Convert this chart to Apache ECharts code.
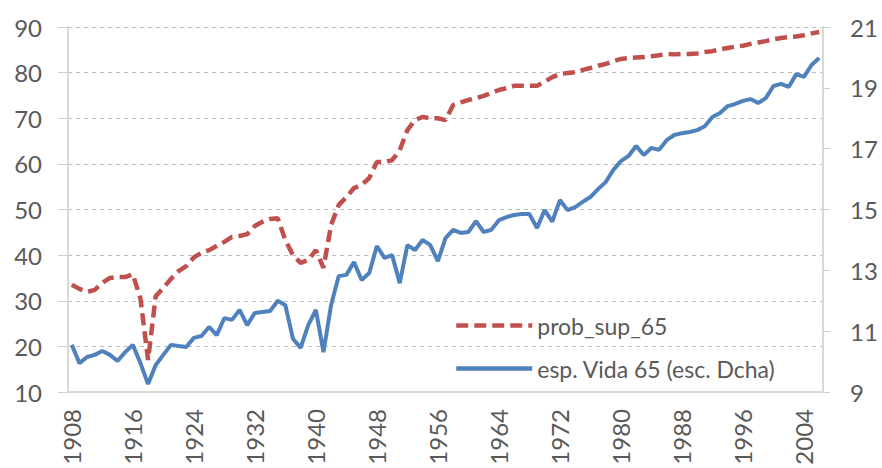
<!DOCTYPE html>
<html>
<head>
<meta charset="utf-8">
<script src="https://cdn.jsdelivr.net/npm/echarts@6/dist/echarts.min.js"></script>
<style>
  html, body { margin: 0; padding: 0; background: #fff; }
  #chart { width: 882px; height: 468px; }
</style>
</head>
<body>
<div id="chart"></div>
<script>
var years = [
  '1908', '1909', '1910', '1911', '1912', '1913', '1914', '1915', '1916', '1917',
  '1918', '1919', '1920', '1921', '1922', '1923', '1924', '1925', '1926', '1927',
  '1928', '1929', '1930', '1931', '1932', '1933', '1934', '1935', '1936', '1937',
  '1938', '1939', '1940', '1941', '1942', '1943', '1944', '1945', '1946', '1947',
  '1948', '1949', '1950', '1951', '1952', '1953', '1954', '1955', '1956', '1957',
  '1958', '1959', '1960', '1961', '1962', '1963', '1964', '1965', '1966', '1967',
  '1968', '1969', '1970', '1971', '1972', '1973', '1974', '1975', '1976', '1977',
  '1978', '1979', '1980', '1981', '1982', '1983', '1984', '1985', '1986', '1987',
  '1988', '1989', '1990', '1991', '1992', '1993', '1994', '1995', '1996', '1997',
  '1998', '1999', '2000', '2001', '2002', '2003', '2004', '2005', '2006'
];

// prob_sup_65 (eje izquierdo)
var probSup65 = [
  33.5, 32.6, 31.9, 32.4, 33.9, 35.0, 35.2, 35.2, 35.8, 30.5,
  17.0, 31.0, 32.8, 34.8, 36.5, 37.6, 39.5, 40.5, 41.1, 42.0,
  42.9, 44.0, 44.2, 44.6, 46.4, 47.3, 47.9, 48.1, 43.3, 40.0,
  38.3, 38.9, 41.1, 37.2, 46.6, 51.0, 52.7, 54.7, 55.4, 56.9,
  60.4, 60.4, 60.8, 63.0, 67.4, 69.6, 70.3, 70.0, 70.0, 69.6,
  72.9, 73.5, 74.0, 74.4, 74.9, 75.5, 76.2, 76.6, 77.1, 77.1,
  77.1, 77.1, 78.0, 79.0, 79.7, 79.9, 80.1, 80.6, 81.0, 81.5,
  81.9, 82.5, 83.0, 83.2, 83.3, 83.4, 83.6, 83.8, 84.1, 84.0,
  84.1, 84.1, 84.2, 84.5, 84.7, 85.1, 85.4, 85.7, 85.9, 86.3,
  86.6, 86.9, 87.3, 87.6, 87.8, 87.9, 88.2, 88.6, 88.9
];

// esp. Vida 65 (eje derecho)
var espVida65 = [
  10.55, 9.95, 10.15, 10.22, 10.35, 10.22, 10.02, 10.31, 10.55, 9.95,
  9.26, 9.89, 10.22, 10.55, 10.51, 10.48, 10.78, 10.84, 11.14, 10.87,
  11.43, 11.37, 11.70, 11.20, 11.60, 11.63, 11.66, 12.00, 11.85, 10.75,
  10.45, 11.20, 11.70, 10.31, 11.86, 12.81, 12.85, 13.27, 12.68, 12.91,
  13.80, 13.41, 13.50, 12.58, 13.83, 13.67, 14.00, 13.83, 13.30, 14.06,
  14.33, 14.23, 14.26, 14.62, 14.26, 14.33, 14.65, 14.75, 14.82, 14.85,
  14.85, 14.39, 14.98, 14.60, 15.31, 14.98, 15.08, 15.25, 15.41, 15.67,
  15.90, 16.30, 16.59, 16.76, 17.09, 16.79, 17.02, 16.96, 17.28, 17.45,
  17.51, 17.55, 17.61, 17.74, 18.04, 18.17, 18.40, 18.47, 18.57, 18.63,
  18.50, 18.66, 19.06, 19.13, 19.03, 19.45, 19.36, 19.75, 19.98
];

var seriesNames = ['prob_sup_65', 'esp. Vida 65 (esc. Dcha)'];

var textColor = '#595959';
var fontFamily = 'Lato, "Open Sans", sans-serif';

var chart = echarts.init(document.getElementById('chart'), null, { renderer: 'svg' });
chart.setOption({
  animation: false,
  textStyle: { fontFamily: fontFamily },
  grid: { left: 68, right: 59, top: 27, bottom: 76 },
  legend: {
    orient: 'vertical',
    left: 449,
    top: 309,
    itemWidth: 76,
    itemHeight: 16,
    itemGap: 20,
    data: seriesNames,
    itemStyle: { opacity: 0 },
    lineStyle: { width: 4.5 },
    textStyle: { color: textColor, fontSize: 23, fontFamily: fontFamily }
  },
  xAxis: {
    type: 'category',
    data: years,
    boundaryGap: true,
    axisLine: { lineStyle: { color: '#d9d9d9', width: 2 } },
    axisTick: { interval: 0, length: 8, lineStyle: { color: '#d0d0d0' } },
    axisLabel: {
      interval: 7,
      rotate: 90,
      margin: 17,
      color: textColor,
      fontSize: 24,
      fontFamily: fontFamily
    },
    splitLine: { show: false }
  },
  yAxis: [
    {
      type: 'value',
      min: 10,
      max: 90,
      interval: 10,
      position: 'left',
      axisLine: { show: true, lineStyle: { color: '#d9d9d9', width: 2 } },
      axisTick: { show: true, length: 10, lineStyle: { color: '#d0d0d0' } },
      axisLabel: { margin: 26, color: textColor, fontSize: 24, fontFamily: fontFamily },
      splitLine: { show: true, lineStyle: { color: '#bdbdbd', type: [4, 4], width: 1 } }
    },
    {
      type: 'value',
      min: 9,
      max: 21,
      interval: 2,
      position: 'right',
      axisLine: { show: true, lineStyle: { color: '#d9d9d9', width: 2 } },
      axisTick: { show: true, length: 7, lineStyle: { color: '#d0d0d0' } },
      axisLabel: { margin: 27, color: textColor, fontSize: 24, fontFamily: fontFamily },
      splitLine: { show: false }
    }
  ],
  series: [
    {
      name: seriesNames[0],
      type: 'line',
      yAxisIndex: 0,
      data: probSup65,
      symbol: 'none',
      color: '#c0504d',
      lineStyle: { color: '#c0504d', width: 4.5, type: [12, 6] },
      z: 2
    },
    {
      name: seriesNames[1],
      type: 'line',
      yAxisIndex: 1,
      data: espVida65,
      symbol: 'none',
      color: '#4f81bd',
      lineStyle: { color: '#4f81bd', width: 4 },
      z: 3
    }
  ]
});
</script>
</body>
</html>
